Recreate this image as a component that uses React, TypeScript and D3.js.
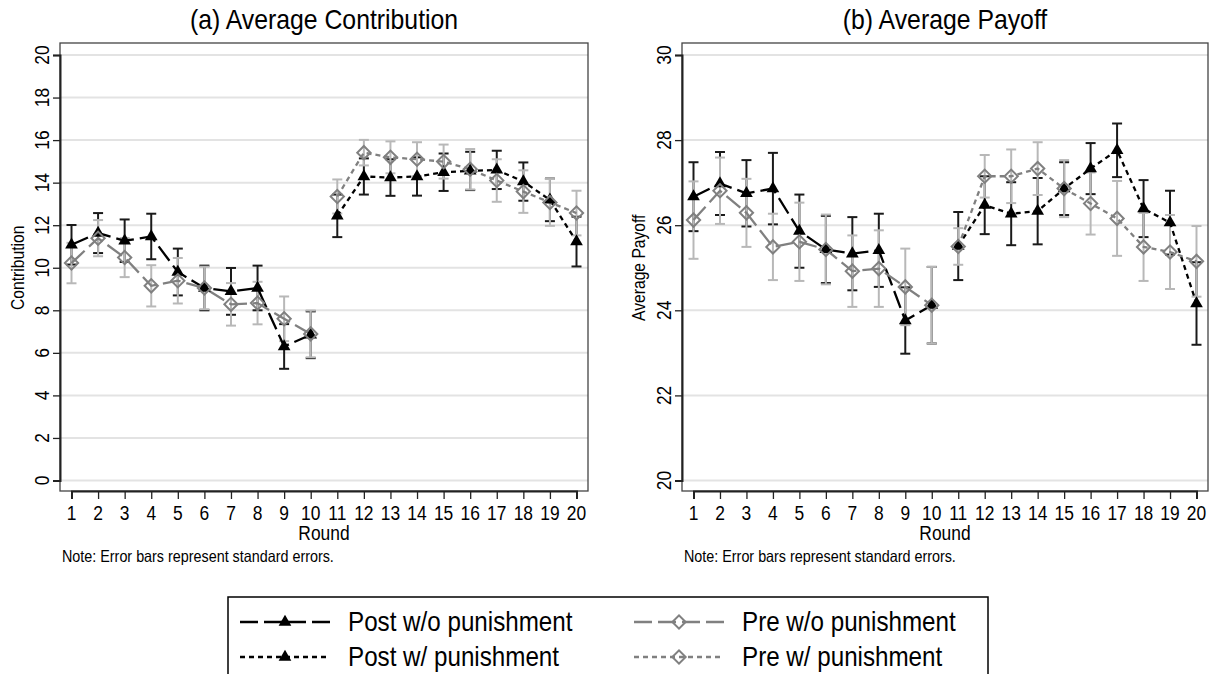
import React, { useEffect, useRef } from 'react';
import * as d3 from 'd3';

// rounds: without punishment first, with punishment second
const roundsWo = [1, 2, 3, 4, 5, 6, 7, 8, 9, 10];
const roundsW = [11, 12, 13, 14, 15, 16, 17, 18, 19, 20];
const roundTicks = [1, 2, 3, 4, 5, 6, 7, 8, 9, 10, 11, 12, 13, 14, 15, 16, 17, 18, 19, 20];
const contribTicks = [0, 2, 4, 6, 8, 10, 12, 14, 16, 18, 20];
const payoffTicks = [20, 22, 24, 26, 28, 30];

// (a) average contribution
const contribPostWo = [11.08, 11.63, 11.27, 11.47, 9.8, 9.05, 8.89, 9.05, 6.3, 6.85];
const contribPostWoSE = [0.93, 0.94, 1.0, 1.07, 1.1, 1.05, 1.1, 1.05, 1.05, 1.1];
const contribPreWo = [10.22, 11.39, 10.48, 9.15, 9.39, 9.05, 8.28, 8.34, 7.6, 6.89];
const contribPreWoSE = [0.95, 0.85, 0.92, 0.97, 1.07, 1.0, 1.0, 1.0, 1.05, 1.1];
const contribPostW = [12.44, 14.29, 14.24, 14.29, 14.49, 14.55, 14.6, 14.05, 13.19, 11.23];
const contribPostWSE = [1.0, 0.85, 0.86, 0.9, 0.88, 0.9, 0.9, 0.9, 1.0, 1.17];
const contribPreW = [13.35, 15.41, 15.19, 15.1, 14.99, 14.63, 14.1, 13.58, 13.07, 12.57];
const contribPreWSE = [0.8, 0.6, 0.75, 0.8, 0.8, 0.95, 1.0, 1.0, 1.1, 1.05];

// (b) average payoff
const payoffPostWo = [26.67, 26.98, 26.75, 26.86, 25.86, 25.43, 25.33, 25.41, 23.76, 24.12];
const payoffPostWoSE = [0.81, 0.74, 0.78, 0.84, 0.86, 0.79, 0.86, 0.86, 0.78, 0.9];
const payoffPreWo = [26.12, 26.81, 26.29, 25.49, 25.61, 25.43, 24.92, 24.98, 24.55, 24.12];
const payoffPreWoSE = [0.91, 0.78, 0.8, 0.78, 0.92, 0.82, 0.84, 0.9, 0.9, 0.9];
const payoffPostW = [25.51, 26.47, 26.27, 26.33, 26.86, 27.33, 27.76, 26.39, 26.06, 24.16];
const payoffPostWSE = [0.8, 0.68, 0.74, 0.78, 0.62, 0.6, 0.63, 0.67, 0.75, 0.97];
const payoffPreW = [25.5, 27.15, 27.15, 27.33, 26.86, 26.51, 26.16, 25.49, 25.37, 25.15];
const payoffPreWSE = [0.43, 0.5, 0.63, 0.62, 0.67, 0.73, 0.88, 0.8, 0.87, 0.83];

const legendLabels = ['Post w/o punishment', 'Post w/ punishment', 'Pre w/o punishment', 'Pre w/ punishment'];

const FONT = '"Liberation Sans", Arial, Helvetica, sans-serif';
const SX = 0.87; // the original font is a narrow helvetica

const LONG = '18 6';
const SHORT = '5 4';
const styles = {
  post: { line: '#000', bar: '#1a1a1a', marker: 'tri' },
  pre: { line: '#808080', bar: '#b8b8b8', marker: 'dia' },
};

const addText = (g, x, y, str, size, anchor = 'middle', rotate = false) => {
  g.append('text')
    .attr('transform', `translate(${x},${y})${rotate ? ' rotate(-90)' : ''} scale(${SX},1)`)
    .attr('text-anchor', anchor)
    .attr('font-family', FONT)
    .attr('font-size', size)
    .attr('fill', '#000')
    .text(str);
};

const drawMarker = (g, kind, cx, cy) => {
  if (kind === 'tri') {
    g.append('path')
      .attr('d', d3.symbol(d3.symbolTriangle, 70)())
      .attr('transform', `translate(${cx},${cy})`)
      .attr('fill', '#000');
  } else {
    g.append('path')
      .attr('d', d3.symbol(d3.symbolSquare, 88)())
      .attr('transform', `translate(${cx},${cy}) rotate(45)`)
      .attr('fill', 'none')
      .attr('stroke', '#808080')
      .attr('stroke-width', 2);
  }
};

const drawPanel = (svg, p) => {
  const g = svg.append('g');
  const x = d3.scaleLinear().domain([1, 20]).range([p.left + 11.5, p.right - 11.5]);
  const y = d3.scaleLinear().domain(p.yDomain).range([p.bottom - 10.5, p.top + 12]);

  g.selectAll('.grid')
    .data(p.yTicks)
    .join('line')
    .attr('x1', p.left).attr('x2', p.right)
    .attr('y1', d => y(d)).attr('y2', d => y(d))
    .attr('stroke', '#e3e3e3')
    .attr('stroke-width', 2);

  g.append('rect')
    .attr('x', p.left).attr('y', p.top)
    .attr('width', p.right - p.left).attr('height', p.bottom - p.top)
    .attr('fill', 'none').attr('stroke', '#444').attr('stroke-width', 1.3);

  const yAxis = g.append('g')
    .attr('transform', `translate(${p.left},0)`)
    .call(d3.axisLeft(y).tickValues(p.yTicks).tickSize(7).tickFormat(() => ''));
  yAxis.select('.domain').attr('stroke', '#222').attr('stroke-width', 2);
  yAxis.selectAll('.tick line').attr('stroke', '#222').attr('stroke-width', 1.3);

  const xAxis = g.append('g')
    .attr('transform', `translate(0,${p.bottom})`)
    .call(d3.axisBottom(x).tickValues(roundTicks).tickSize(8).tickFormat(() => ''));
  xAxis.select('.domain').attr('stroke', '#222').attr('stroke-width', 2);
  xAxis.selectAll('.tick line').attr('stroke', '#222').attr('stroke-width', 1.3);

  p.yTicks.forEach(t => addText(g, p.left - 11, y(t), String(t), 20, 'middle', true));
  roundTicks.forEach(t => addText(g, x(t), p.bottom + 29, String(t), 20));
  addText(g, (p.left + p.right) / 2, p.bottom + 49, 'Round', 20);
  addText(g, p.left + 2, p.bottom + 71, 'Note: Error bars represent standard errors.', 16.5, 'start');
  addText(g, (p.left + p.right) / 2, 29, p.title, 28.5);
  addText(g, p.yLabelX, (y.range()[0] + y.range()[1]) / 2, p.yLabel, 18, 'middle', true);

  // error bars: post first, pre on top
  ['post', 'pre'].forEach(kind => {
    p.series.filter(s => s.kind === kind).forEach(s => {
      s.rounds.forEach((r, i) => {
        const lo = y(s.values[i] - s.se[i]);
        const hi = y(s.values[i] + s.se[i]);
        const cx = x(r);
        const c = styles[kind].bar;
        g.append('line').attr('x1', cx).attr('x2', cx).attr('y1', lo).attr('y2', hi)
          .attr('stroke', c).attr('stroke-width', 2);
        [lo, hi].forEach(yy => g.append('line')
          .attr('x1', cx - 5).attr('x2', cx + 5).attr('y1', yy).attr('y2', yy)
          .attr('stroke', c).attr('stroke-width', 2));
      });
    });
  });

  const line = d3.line().x(d => x(d[0])).y(d => y(d[1]));
  p.series.forEach(s => {
    g.append('path')
      .datum(s.rounds.map((r, i) => [r, s.values[i]]))
      .attr('d', line)
      .attr('fill', 'none')
      .attr('stroke', styles[s.kind].line)
      .attr('stroke-width', 2.3)
      .attr('stroke-dasharray', s.dash);
  });
  p.series.forEach(s => {
    s.rounds.forEach((r, i) => drawMarker(g, styles[s.kind].marker, x(r), y(s.values[i])));
  });
};

const drawLegend = svg => {
  const g = svg.append('g');
  g.append('rect')
    .attr('x', 228).attr('y', 597).attr('width', 760).attr('height', 100)
    .attr('fill', '#fff').attr('stroke', '#000').attr('stroke-width', 1.5);
  const keys = [
    { kind: 'post', dash: LONG, col: 0, row: 0 },
    { kind: 'post', dash: SHORT, col: 0, row: 1 },
    { kind: 'pre', dash: LONG, col: 1, row: 0 },
    { kind: 'pre', dash: SHORT, col: 1, row: 1 },
  ];
  keys.forEach((k, i) => {
    const x0 = k.col === 0 ? 240 : 634;
    const cy = k.row === 0 ? 622 : 657;
    g.append('line')
      .attr('x1', x0).attr('x2', x0 + 90).attr('y1', cy).attr('y2', cy)
      .attr('stroke', styles[k.kind].line).attr('stroke-width', 2.5)
      .attr('stroke-dasharray', k.dash);
    drawMarker(g, styles[k.kind].marker, x0 + 45, cy);
    addText(g, x0 + 108, cy + 9, legendLabels[i], 27.8, 'start');
  });
};

const App = () => {
  const ref = useRef(null);

  useEffect(() => {
    const svg = d3.select(ref.current);
    svg.selectAll('*').remove();

    drawPanel(svg, {
      left: 60, right: 588, top: 43, bottom: 491,
      yDomain: [0, 20], yTicks: contribTicks,
      title: '(a) Average Contribution', yLabel: 'Contribution', yLabelX: 24,
      series: [
        { kind: 'post', dash: LONG, rounds: roundsWo, values: contribPostWo, se: contribPostWoSE },
        { kind: 'post', dash: SHORT, rounds: roundsW, values: contribPostW, se: contribPostWSE },
        { kind: 'pre', dash: LONG, rounds: roundsWo, values: contribPreWo, se: contribPreWoSE },
        { kind: 'pre', dash: SHORT, rounds: roundsW, values: contribPreW, se: contribPreWSE },
      ],
    });

    drawPanel(svg, {
      left: 682, right: 1208, top: 43, bottom: 491,
      yDomain: [20, 30], yTicks: payoffTicks,
      title: '(b) Average Payoff', yLabel: 'Average Payoff', yLabelX: 645,
      series: [
        { kind: 'post', dash: LONG, rounds: roundsWo, values: payoffPostWo, se: payoffPostWoSE },
        { kind: 'post', dash: SHORT, rounds: roundsW, values: payoffPostW, se: payoffPostWSE },
        { kind: 'pre', dash: LONG, rounds: roundsWo, values: payoffPreWo, se: payoffPreWoSE },
        { kind: 'pre', dash: SHORT, rounds: roundsW, values: payoffPreW, se: payoffPreWSE },
      ],
    });

    drawLegend(svg);
  }, []);

  return (
    <svg ref={ref} width={1210} height={674}
      style={{ position: 'absolute', left: 0, top: 0, background: '#fff' }} />
  );
};

export default App;
